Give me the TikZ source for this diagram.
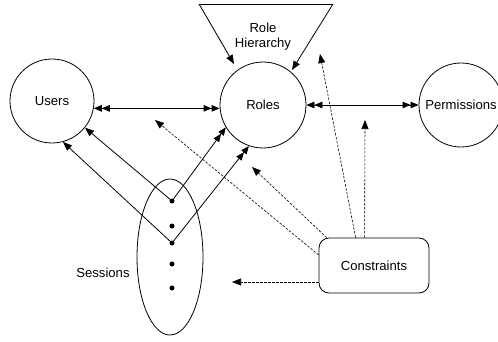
\documentclass[tikz,border=0pt]{standalone}
\usepackage{fontspec}
\setmainfont{Liberation Sans}
\usetikzlibrary{arrows.meta,shapes.geometric}
\begin{document}
\begin{tikzpicture}[x=1pt,y=-1pt,
  every node/.style={font=\fontsize{13.1}{15}\selectfont},
  ln/.style={line width=0.8pt},
  ent/.style={circle,draw,ln,minimum size=84pt,inner sep=0pt},
  one/.style={ln,-{Triangle[length=9pt,width=7pt]}},
  two/.style={ln,{Triangle[length=8pt,width=6.5pt] Triangle[length=8pt,width=6.5pt]}-{Triangle[length=8pt,width=6.5pt] Triangle[length=8pt,width=6.5pt]}},
  many/.style={ln,-{Triangle[length=8pt,width=6.5pt] Triangle[length=8pt,width=6.5pt]}},
  dsh/.style={line width=0.6pt,dash pattern=on 2.5pt off 1.5pt,-{Triangle[length=9pt,width=7pt]}},
  sdot/.style={circle,fill,inner sep=0pt,minimum size=5pt}]
\useasboundingbox (0,0) rectangle (498,342);
% entities
\node[ent] (users) at (52,101) {Users};
\node[ent,minimum size=86pt] (roles) at (263,105) {Roles};
\node[ent] (perm) at (461,105) {Permissions};
\node[ellipse,draw,ln,minimum width=66pt,minimum height=156pt,inner sep=0pt] (sess) at (170,257) {};
\node (sesslbl) at (103,273) {Sessions};
\node[draw,ln,rounded corners=10pt,minimum width=110pt,minimum height=55pt] (cons) at (374,265.5) {Constraints};
\node[align=center] (rh) at (263,36.5) {Role\\Hierarchy};
% session dots
\node[sdot] (d1) at (172,201) {};
\node[sdot] (d2) at (172,226) {};
\node[sdot] (d3) at (172,243) {};
\node[sdot] (d4) at (172,264) {};
\node[sdot] (d5) at (172,288) {};
% role hierarchy triangle
\coordinate (tl) at (199,4);
\coordinate (tr) at (333,4);
\coordinate (hl) at (234,64);
\coordinate (hr) at (292,70);
\draw[ln] (tl) -- (tr);
\draw[one] (tl) -- (hl);
\draw[one] (tr) -- (hr);
% assignments
\draw[two] (users.-10) -- (users.-10 -| roles.west);
\draw[two] (roles.east) -- (perm.west);
% sessions
\draw[one] (d1.center) -- (users.-39);
\draw[one] (d3.center) -- (users.-75);
\draw[many] (d1.center) -- (roles.211);
\draw[many] (d3.center) -- (roles.251);
% constraints
\coordinate (t1) at (232,282);
\coordinate (t2) at (155,120);
\coordinate (t3) at (252,167);
\coordinate (t4) at (320,54);
\coordinate (t5) at (365,120);
\draw[dsh] ([yshift=-16.5pt]cons.west) -- (t1);
\draw[dsh] ([yshift=10.5pt]cons.west) -- (t2);
\draw[dsh] ([xshift=8pt]cons.north west) -- (t3);
\draw[dsh] ([xshift=37pt]cons.north west) -- (t4);
\draw[dsh] ([xshift=46pt]cons.north west) -- (t5);
\end{tikzpicture}
\end{document}
